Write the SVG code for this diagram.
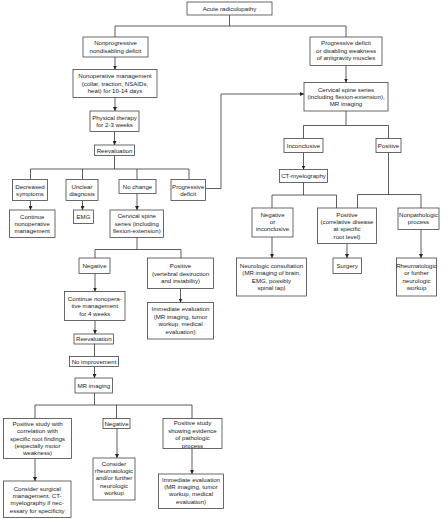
<svg xmlns="http://www.w3.org/2000/svg" width="448" height="519" viewBox="0 0 448 519">
<defs>
<marker id="ah" markerUnits="userSpaceOnUse" markerWidth="4" markerHeight="4" viewBox="0 0 4 4" refX="4" refY="2" orient="auto">
<path d="M0,0 L4,2 L0,4 Z" fill="#222"/>
</marker>
<style>
rect{fill:#fff;stroke:#444;stroke-width:0.8}
text{font-family:"Liberation Sans",Arial,sans-serif;font-size:6.1px;fill:#222;text-anchor:middle}
#connectors path{fill:none;stroke:#333;stroke-width:0.8}
#connectors path.a{marker-end:url(#ah)}
</style>
</defs>
<rect x="0" y="0" width="448" height="519" style="fill:#fff;stroke:none"/>
<g id="connectors">
<path d="M229.5,15 V26 M115,37 V26 H346 V37"/>
<path class="a" d="M115,57 V69.5"/>
<path class="a" d="M115,97.5 V111"/>
<path class="a" d="M114.5,131.5 V145"/>
<path d="M114.5,155.5 V169 M30.5,179.5 V169 H189 V179.5 M82.5,169 V179.5 M137,169 V179.5"/>
<path class="a" d="M30.5,200.5 V210"/>
<path class="a" d="M82.5,200.5 V210"/>
<path class="a" d="M137,193.5 V210"/>
<path class="a" d="M205.5,188.5 H221 V94 H304"/>
<path class="a" d="M346,65.5 V82.5"/>
<path d="M346,111 V125.5 M303.5,138.5 V125.5 H388.5 V138.5"/>
<path class="a" d="M303.5,152.5 V169.5"/>
<path d="M303.5,182.5 V195 M272,208 V195 H336.5 V208"/>
<path d="M388.5,152.5 V194.5 M357.5,208 V194.5 H421 V208"/>
<path class="a" d="M272,237 V258"/>
<path class="a" d="M347,243.5 V258"/>
<path class="a" d="M421,229.5 V258"/>
<path d="M137,237.5 V249.5 M95,258 V249.5 H181 V258"/>
<path class="a" d="M95,273.5 V291.5"/>
<path class="a" d="M180.5,288.5 V302.5"/>
<path class="a" d="M95,320.5 V334"/>
<path d="M94.5,344 V356.5"/>
<path class="a" d="M94.5,366.5 V378"/>
<path d="M94.5,393 V405 M35,418.5 V405 H192 V418.5 M116.5,405 V418.5"/>
<path class="a" d="M35,458.5 V481"/>
<path class="a" d="M117,428.5 V458"/>
<path class="a" d="M192,448.5 V474"/>
</g>
<g id="acute"><rect x="187" y="2" width="85" height="13"/><text x="229.5" y="10.7">Acute radiculopathy</text></g>
<g id="nonprog"><rect x="83" y="37" width="65" height="20"/><text y="45.4"><tspan x="115.5">Nonprogressive</tspan><tspan x="115.5" dy="7.4">nondisabling deficit</tspan></text></g>
<g id="prog"><rect x="310" y="37" width="72" height="28.5"/><text y="45.2"><tspan x="346">Progressive deficit</tspan><tspan x="346" dy="7.4">or disabling weakness</tspan><tspan x="346" dy="7.4">of antigravity muscles</tspan></text></g>
<g id="nonop"><rect x="73" y="69.5" width="84" height="28"/><text y="78.3"><tspan x="115">Nonoperative management</tspan><tspan x="115" dy="7.4">(collar, traction, NSAIDs,</tspan><tspan x="115" dy="7.4">heat) for 10-14 days</tspan></text></g>
<g id="cervR"><rect x="304" y="82.5" width="84" height="28.5"/><text y="91.5"><tspan x="346">Cervical spine series</tspan><tspan x="346" dy="7.4">(including flexion-extension),</tspan><tspan x="346" dy="7.4">MR imaging</tspan></text></g>
<g id="physio"><rect x="90" y="111" width="49" height="20.5"/><text y="119.6"><tspan x="114.5">Physical therapy</tspan><tspan x="114.5" dy="7.4">for 2-3 weeks</tspan></text></g>
<g id="reeval1"><rect x="94.5" y="145" width="40" height="10.5"/><text x="114.5" y="152.5">Reevaluation</text></g>
<g id="decreased"><rect x="12.5" y="179.5" width="35" height="21"/><text y="188.5"><tspan x="30">Decreased</tspan><tspan x="30" dy="7.4">symptoms</tspan></text></g>
<g id="unclear"><rect x="66" y="179.5" width="32" height="21"/><text y="188.5"><tspan x="82">Unclear</tspan><tspan x="82" dy="7.4">diagnosis</tspan></text></g>
<g id="nochange"><rect x="119" y="179.5" width="37" height="14"/><text x="137.5" y="188.7">No change</text></g>
<g id="progdef"><rect x="171" y="179.5" width="34.5" height="21"/><text y="188.5"><tspan x="188.2">Progressive</tspan><tspan x="188.2" dy="7.4">deficit</tspan></text></g>
<g id="continue1"><rect x="9.5" y="210" width="45.5" height="27.5"/><text y="218.5"><tspan x="32.2">Continue</tspan><tspan x="32.2" dy="7.4">nonoperative</tspan><tspan x="32.2" dy="7.4">management</tspan></text></g>
<g id="emg"><rect x="73.5" y="210" width="20" height="13.5"/><text x="83.5" y="219.2">EMG</text></g>
<g id="cerv2"><rect x="110" y="210" width="53.5" height="27.5"/><text y="218.4"><tspan x="136.8">Cervical spine</tspan><tspan x="136.8" dy="7.4">series (including</tspan><tspan x="136.8" dy="7.4">flexion-extension)</tspan></text></g>
<g id="incon"><rect x="284" y="138.5" width="39" height="14"/><text x="303.5" y="147.7">Inconclusive</text></g>
<g id="posR"><rect x="376" y="138.5" width="25" height="14"/><text x="388.5" y="147.7">Positive</text></g>
<g id="ctmyelo"><rect x="279.5" y="169.5" width="48" height="13"/><text x="303.5" y="178.2">CT-myelography</text></g>
<g id="neginc"><rect x="252" y="208" width="41" height="29"/><text y="216.5"><tspan x="272.5">Negative</tspan><tspan x="272.5" dy="7.4">or</tspan><tspan x="272.5" dy="7.4">inconclusive</tspan></text></g>
<g id="poscorr"><rect x="317.5" y="208" width="59" height="35.5"/><text y="216.5"><tspan x="347">Positive</tspan><tspan x="347" dy="7.4">(correlative disease</tspan><tspan x="347" dy="7.4">at specific</tspan><tspan x="347" dy="7.4">root level)</tspan></text></g>
<g id="nonpath"><rect x="398" y="208" width="41" height="21.5"/><text y="216.8"><tspan x="418.5">Nonpathologic</tspan><tspan x="418.5" dy="7.4">process</tspan></text></g>
<g id="neuro"><rect x="236.5" y="258" width="70" height="38"/><text y="267.9"><tspan x="271.5">Neurologic consultation</tspan><tspan x="271.5" dy="7.4">(MR imaging of brain,</tspan><tspan x="271.5" dy="7.4">EMG, possibly</tspan><tspan x="271.5" dy="7.4">spinal tap)</tspan></text></g>
<g id="surgery"><rect x="333" y="258" width="28.5" height="15.5"/><text x="347.2" y="268.2">Surgery</text></g>
<g id="rheum"><rect x="396.5" y="258" width="40" height="38"/><text y="267.9"><tspan x="416.5">Rheumatologic</tspan><tspan x="416.5" dy="7.4">or further</tspan><tspan x="416.5" dy="7.4">neurologic</tspan><tspan x="416.5" dy="7.4">workup</tspan></text></g>
<g id="neg1"><rect x="79" y="258" width="31" height="15.5"/><text x="94.5" y="268.2">Negative</text></g>
<g id="posvert"><rect x="147.5" y="258" width="66" height="30.5"/><text y="268.4"><tspan x="180.5">Positive</tspan><tspan x="180.5" dy="7.4">(vertebral destruction</tspan><tspan x="180.5" dy="7.4">and instability)</tspan></text></g>
<g id="immed1"><rect x="147.5" y="302.5" width="66" height="36.5"/><text y="311.3"><tspan x="180.5">Immediate evaluation</tspan><tspan x="180.5" dy="7.4">(MR imaging, tumor</tspan><tspan x="180.5" dy="7.4">workup, medical</tspan><tspan x="180.5" dy="7.4">evaluation)</tspan></text></g>
<g id="continue2"><rect x="64.5" y="291.5" width="60.5" height="29"/><text y="300.8"><tspan x="94.8">Continue nonopera-</tspan><tspan x="94.8" dy="7.4">tive management</tspan><tspan x="94.8" dy="7.4">for 4 weeks</tspan></text></g>
<g id="reeval2"><rect x="74" y="334" width="39.5" height="10"/><text x="93.8" y="341.3">Reevaluation</text></g>
<g id="noimp"><rect x="69.5" y="356.5" width="49" height="10"/><text x="94" y="363.8">No improvement</text></g>
<g id="mri"><rect x="75" y="378" width="37.5" height="15"/><text x="93.8" y="387.7">MR imaging</text></g>
<g id="posstudy"><rect x="3.5" y="418.5" width="68" height="40"/><text y="425.7"><tspan x="37.5">Positive study with</tspan><tspan x="37.5" dy="7.4">correlation with</tspan><tspan x="37.5" dy="7.4">specific root findings</tspan><tspan x="37.5" dy="7.4">(especially motor</tspan><tspan x="37.5" dy="7.4">weakness)</tspan></text></g>
<g id="neg2"><rect x="103" y="418.5" width="27" height="10"/><text x="116.5" y="425.7">Negative</text></g>
<g id="posstudy2"><rect x="163" y="418.5" width="59" height="30"/><text y="425.4"><tspan x="192.5">Positive study</tspan><tspan x="192.5" dy="7.4">showing evidence</tspan><tspan x="192.5" dy="7.4">of pathologic</tspan><tspan x="192.5" dy="7.4">process</tspan></text></g>
<g id="consider1"><rect x="3.5" y="481" width="67.5" height="36.5"/><text y="490.5"><tspan x="37.2">Consider surgical</tspan><tspan x="37.2" dy="7.4">management, CT-</tspan><tspan x="37.2" dy="7.4">myelography if nec-</tspan><tspan x="37.2" dy="7.4">essary for specificity</tspan></text></g>
<g id="consider2"><rect x="93" y="458" width="42" height="42"/><text y="465.5"><tspan x="114">Consider</tspan><tspan x="114" dy="7.4">rheumatologic</tspan><tspan x="114" dy="7.4">and/or further</tspan><tspan x="114" dy="7.4">neurologic</tspan><tspan x="114" dy="7.4">workup</tspan></text></g>
<g id="immed2"><rect x="158.5" y="474" width="65" height="34.5"/><text y="481.6"><tspan x="191">Immediate evaluation</tspan><tspan x="191" dy="7.4">(MR imaging, tumor</tspan><tspan x="191" dy="7.4">workup, medical</tspan><tspan x="191" dy="7.4">evaluation)</tspan></text></g>
</svg>
